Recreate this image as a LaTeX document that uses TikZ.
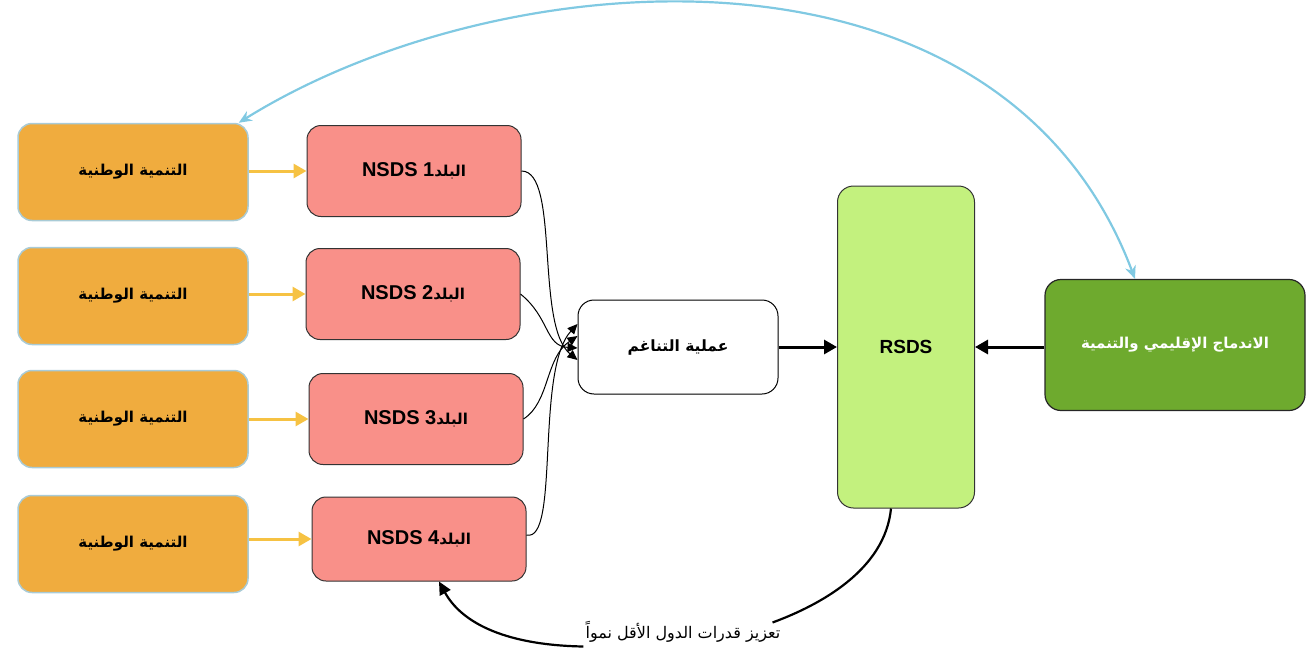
\documentclass[tikz,border=0pt]{standalone}
\usepackage{fontspec}
\setmainfont{Liberation Sans}
\newfontfamily\arabicfont[Script=Arabic]{DejaVu Sans}
\TeXXeTstate=1
\usetikzlibrary{arrows.meta}
\definecolor{orangefill}{HTML}{F0AC3E}
\definecolor{orangeedge}{HTML}{A9CBD6}
\definecolor{pinkfill}{HTML}{F99089}
\definecolor{lgreen}{HTML}{C3F17E}
\definecolor{dgreen}{HTML}{6EAA2E}
\definecolor{yarrow}{HTML}{F6C243}
\definecolor{barrow}{HTML}{80C9E2}
\tikzset{
  natbox/.style={draw=orangeedge, line width=1.5pt, fill=orangefill, rounded corners=14pt, minimum width=230pt, minimum height=97pt, font=\arabicfont\bfseries\fontsize{15}{17}\selectfont},
  nsdsbox/.style={draw=black!80, line width=1pt, fill=pinkfill, rounded corners=14pt, minimum width=214pt, minimum height=91pt, font=\bfseries\fontsize{20}{22}\selectfont},
  harmbox/.style={draw=black, line width=1pt, fill=white, rounded corners=16pt, minimum width=200pt, minimum height=94pt, font=\arabicfont\bfseries\fontsize{15.5}{17}\selectfont},
  yarr/.style={draw=yarrow, line width=3pt, -{Triangle[length=13pt,width=14pt]}},
  thinarr/.style={draw=black, line width=1pt, -{Triangle[length=10pt,width=9pt]}},
  thickarr/.style={draw=black, line width=3pt, -{Triangle[length=13pt,width=14pt]}},
}
\newcommand{\ar}[1]{{\arabicfont\beginR #1\endR}}
\newcommand{\arsmall}[1]{{\arabicfont\fontsize{15}{17}\selectfont\beginR #1\endR}}
\begin{document}
\begin{tikzpicture}[x=1pt,y=-1pt]
\useasboundingbox (0,0) rectangle (1310,648);
% orange boxes
\node[natbox] (n1) at (133,172) {\ar{التنمية الوطنية}};
\node[natbox] (n2) at (133,296) {\ar{التنمية الوطنية}};
\node[natbox] (n3) at (133,419) {\ar{التنمية الوطنية}};
\node[natbox] (n4) at (133,544) {\ar{التنمية الوطنية}};
% pink boxes
\node[nsdsbox] (p1) at (414,171) {NSDS 1\arsmall{البلد}};
\node[nsdsbox] (p2) at (413,294) {NSDS 2\arsmall{البلد}};
\node[nsdsbox] (p3) at (416,419) {NSDS 3\arsmall{البلد}};
\node[nsdsbox, minimum height=84pt] (p4) at (419,539) {NSDS 4\arsmall{البلد}};
% harmonisation
\node[harmbox] (h) at (678,347) {\ar{عملية التناغم}};
% RSDS
\node[draw=black!80, line width=1pt, fill=lgreen, rounded corners=16pt, minimum width=137pt, minimum height=322pt, font=\bfseries\fontsize{19}{21}\selectfont] (r) at (906,347) {RSDS};
% regional
\node[draw=black!85, line width=1.2pt, fill=dgreen, rounded corners=16pt, minimum width=260pt, minimum height=131pt, text=white, font=\arabicfont\bfseries\fontsize{15}{17}\selectfont] (g) at (1175,345) {\ar{الاندماج الإقليمي والتنمية}};
% label
\node[font=\arabicfont\fontsize{16}{18}\selectfont, inner sep=2pt] (lbl) at (683,632) {\ar{تعزيز قدرات الدول الأقل نمواً}};
% yellow arrows
\draw[yarr] (n1.east |- p1.west) -- (p1.west);
\draw[yarr] (n2.east |- p2.west) -- (p2.west);
\draw[yarr] (n3.east |- p3.west) -- (p3.west);
\draw[yarr] (n4.east |- p4.west) -- (p4.west);
% curves into harmonisation
\coordinate (h1) at ([yshift=-13pt]h.west);
\coordinate (h2) at ([yshift=-1pt]h.west);
\coordinate (h3) at ([yshift=11pt]h.west);
\coordinate (h4) at ([yshift=23pt]h.west);
\draw[thinarr] (p1.east) .. controls (560,171) and (535,325) .. (h1);
\draw[thinarr] (p2.east) .. controls (550,318) and (545,346) .. (h2);
\draw[thinarr] (p3.east) .. controls (550,402) and (545,358) .. (h3);
\draw[thinarr] ([yshift=4pt]p4.east) .. controls (560,543) and (535,370) .. (h4);
% thick arrows
\draw[thickarr] (h.east) -- (h.east -| r.west);
\draw[thickarr] (g.west |- r.east) -- (r.east);
% blue arc
\coordinate (gt) at ([xshift=-40pt]g.north);
\coordinate (nt) at ([xshift=-10pt]n1.north east);
\draw[barrow, line width=2.2pt, {Stealth[length=13pt,width=11pt]}-{Stealth[length=13pt,width=11pt]}] (nt) .. controls (500,-40) and (1000,-80) .. (gt);
% bottom curve
\coordinate (rb) at ([xshift=-15pt]r.south);
\coordinate (pb) at ([xshift=20pt]p4.south);
\draw[black, line width=2.2pt] (rb) .. controls (885,570) and (820,605) .. ([yshift=-3pt,xshift=-10pt]lbl.north east);
\draw[black, line width=2.2pt, -{Triangle[length=13pt,width=12pt]}] ([yshift=-2pt]lbl.south west) .. controls (500,645) and (460,620) .. (pb);
\end{tikzpicture}
\end{document}
